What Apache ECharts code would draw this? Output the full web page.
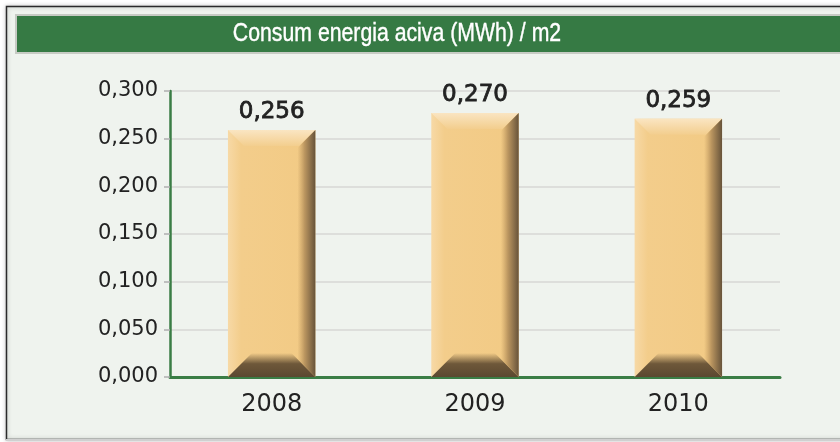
<!DOCTYPE html>
<html>
<head>
<meta charset="utf-8">
<title>Consum energia aciva</title>
<script src="https://cdn.jsdelivr.net/npm/echarts@6/dist/echarts.min.js"></script>
<style>
    html, body{
        margin: 0;
        padding: 0;
        background: #ffffff;
    }
    .myEcharts{
        width: 840px;
        height: 442px;
    }
</style>
</head>
<body>
<div class="myEcharts" id="myEcharts"></div>
<script>
    // dades
    var years = ['2008', '2009', '2010'];
    var consum = [0.259, 0.277, 0.271];
    var etiquetes = ['0,256', '0,270', '0,259'];
    var yTicks = [0, 0.05, 0.1, 0.15, 0.2, 0.25, 0.3];

    var textFont = '"DejaVu Sans", "Liberation Sans", sans-serif';

    // barra amb bisell
    function renderBar(params, api){
        var idx = api.value(0);
        var top = api.coord([idx, api.value(1)]);
        var bot = api.coord([idx, 0]);
        var w = api.size([1, 0])[0] * 0.43;
        var x0 = top[0] - w / 2, x1 = top[0] + w / 2;
        var y0 = top[1], y1 = bot[1];
        var b = 16;
        var h = y1 - y0;
        return {
            type: 'group',
            children: [
                {
                    type: 'rect',
                    shape: {x: x0, y: y0, width: w, height: h},
                    style: {
                        fill: new echarts.graphic.LinearGradient(0, 0, 1, 0, [
                            {offset: 0, color: '#f7d9a6'},
                            {offset: 0.15, color: '#f3cd8b'},
                            {offset: 1, color: '#f2ca84'}
                        ])
                    }
                },
                {
                    type: 'polygon',
                    shape: {points: [[x0, y0], [x1, y0], [x1 - b, y0 + b], [x0 + b, y0 + b]]},
                    style: {
                        fill: new echarts.graphic.LinearGradient(0, 0, 0, 1, [
                            {offset: 0, color: '#fae5c2'},
                            {offset: 1, color: '#f3ce8e'}
                        ])
                    }
                },
                {
                    type: 'polygon',
                    shape: {points: [[x0, y1], [x0 + b + 8, y1 - b - 8], [x1 - b - 8, y1 - b - 8], [x1, y1]]},
                    style: {
                        fill: new echarts.graphic.LinearGradient(0, 0, 0, 1, [
                            {offset: 0, color: 'rgba(110,88,58,0)'},
                            {offset: 0.45, color: '#6e583a'},
                            {offset: 1, color: '#5b4830'}
                        ])
                    }
                },
                {
                    type: 'polygon',
                    shape: {points: [[x1 - b - 2, y0 + b + 2], [x1, y0], [x1, y1], [x1 - b - 2, y1 - b - 2]]},
                    style: {
                        fill: new echarts.graphic.LinearGradient(0, 0, 1, 0, [
                            {offset: 0, color: 'rgba(200,160,100,0)'},
                            {offset: 0.4, color: '#bb9660'},
                            {offset: 1, color: '#67533a'}
                        ])
                    }
                },
                {
                    type: 'text',
                    style: {
                        text: etiquetes[idx],
                        x: top[0],
                        y: y0 - 18,
                        align: 'center',
                        verticalAlign: 'middle',
                        font: '23px ' + textFont,
                        fill: '#222222',
                        stroke: '#222222',
                        lineWidth: 0.8
                    }
                }
            ]
        };
    }

    var chart = echarts.init(document.getElementById('myEcharts'));

    var options = {
        animation: false,
        backgroundColor: '#ffffff',
        graphic: [
            {
                type: 'rect',
                z: -10,
                shape: {x: 6.5, y: 6.5, width: 840, height: 433},
                style: {fill: '#eff3ee', stroke: '#2b2b2b', lineWidth: 1.5,
                    shadowBlur: 4, shadowColor: 'rgba(0,0,0,0.25)'}
            },
            {
                type: 'line',
                z: -9,
                shape: {x1: 6, y1: 440, x2: 840, y2: 440},
                style: {stroke: '#d0d0d0', lineWidth: 2}
            },
            {
                type: 'rect',
                z: -8,
                shape: {x: 16, y: 15, width: 830, height: 38},
                style: {fill: '#367a44', stroke: '#c7cbc4', lineWidth: 2}
            },
            {
                // titol estret
                type: 'text',
                z: -7,
                x: 397,
                y: 34,
                scaleX: 0.85,
                style: {
                    text: 'Consum energia aciva (MWh) / m2',
                    align: 'center',
                    verticalAlign: 'middle',
                    font: '25px "Liberation Sans", Arial, sans-serif',
                    fill: '#ffffff',
                    stroke: '#ffffff',
                    lineWidth: 0.4
                }
            }
        ],
        grid: {
            left: 170,
            right: 60,
            top: 91,
            bottom: 65
        },
        xAxis: {
            type: 'category',
            data: years,
            axisLine: {lineStyle: {color: '#3a7d45', width: 3}},
            axisTick: {show: false},
            axisLabel: {
                margin: 16,
                fontSize: 24,
                fontFamily: textFont,
                color: '#222222'
            }
        },
        yAxis: {
            type: 'value',
            min: yTicks[0],
            max: yTicks[yTicks.length - 1],
            interval: yTicks[1],
            axisLine: {show: true, lineStyle: {color: '#3a7d45', width: 2.5}},
            axisTick: {show: true, length: 6, lineStyle: {color: '#b0b0b0', width: 1.5}},
            splitLine: {lineStyle: {color: '#d7d7d4', width: 1.5}},
            axisLabel: {
                margin: 12,
                fontSize: 21,
                fontFamily: textFont,
                color: '#222222',
                formatter: function (v){
                    return v.toFixed(3).replace('.', ',');
                }
            }
        },
        series: [
            {
                type: 'custom',
                renderItem: renderBar,
                encode: {x: 0, y: 1},
                data: consum.map(function (v, i){ return [i, v]; })
            }
        ]
    };

    chart.setOption(options);
</script>
</body>
</html>
